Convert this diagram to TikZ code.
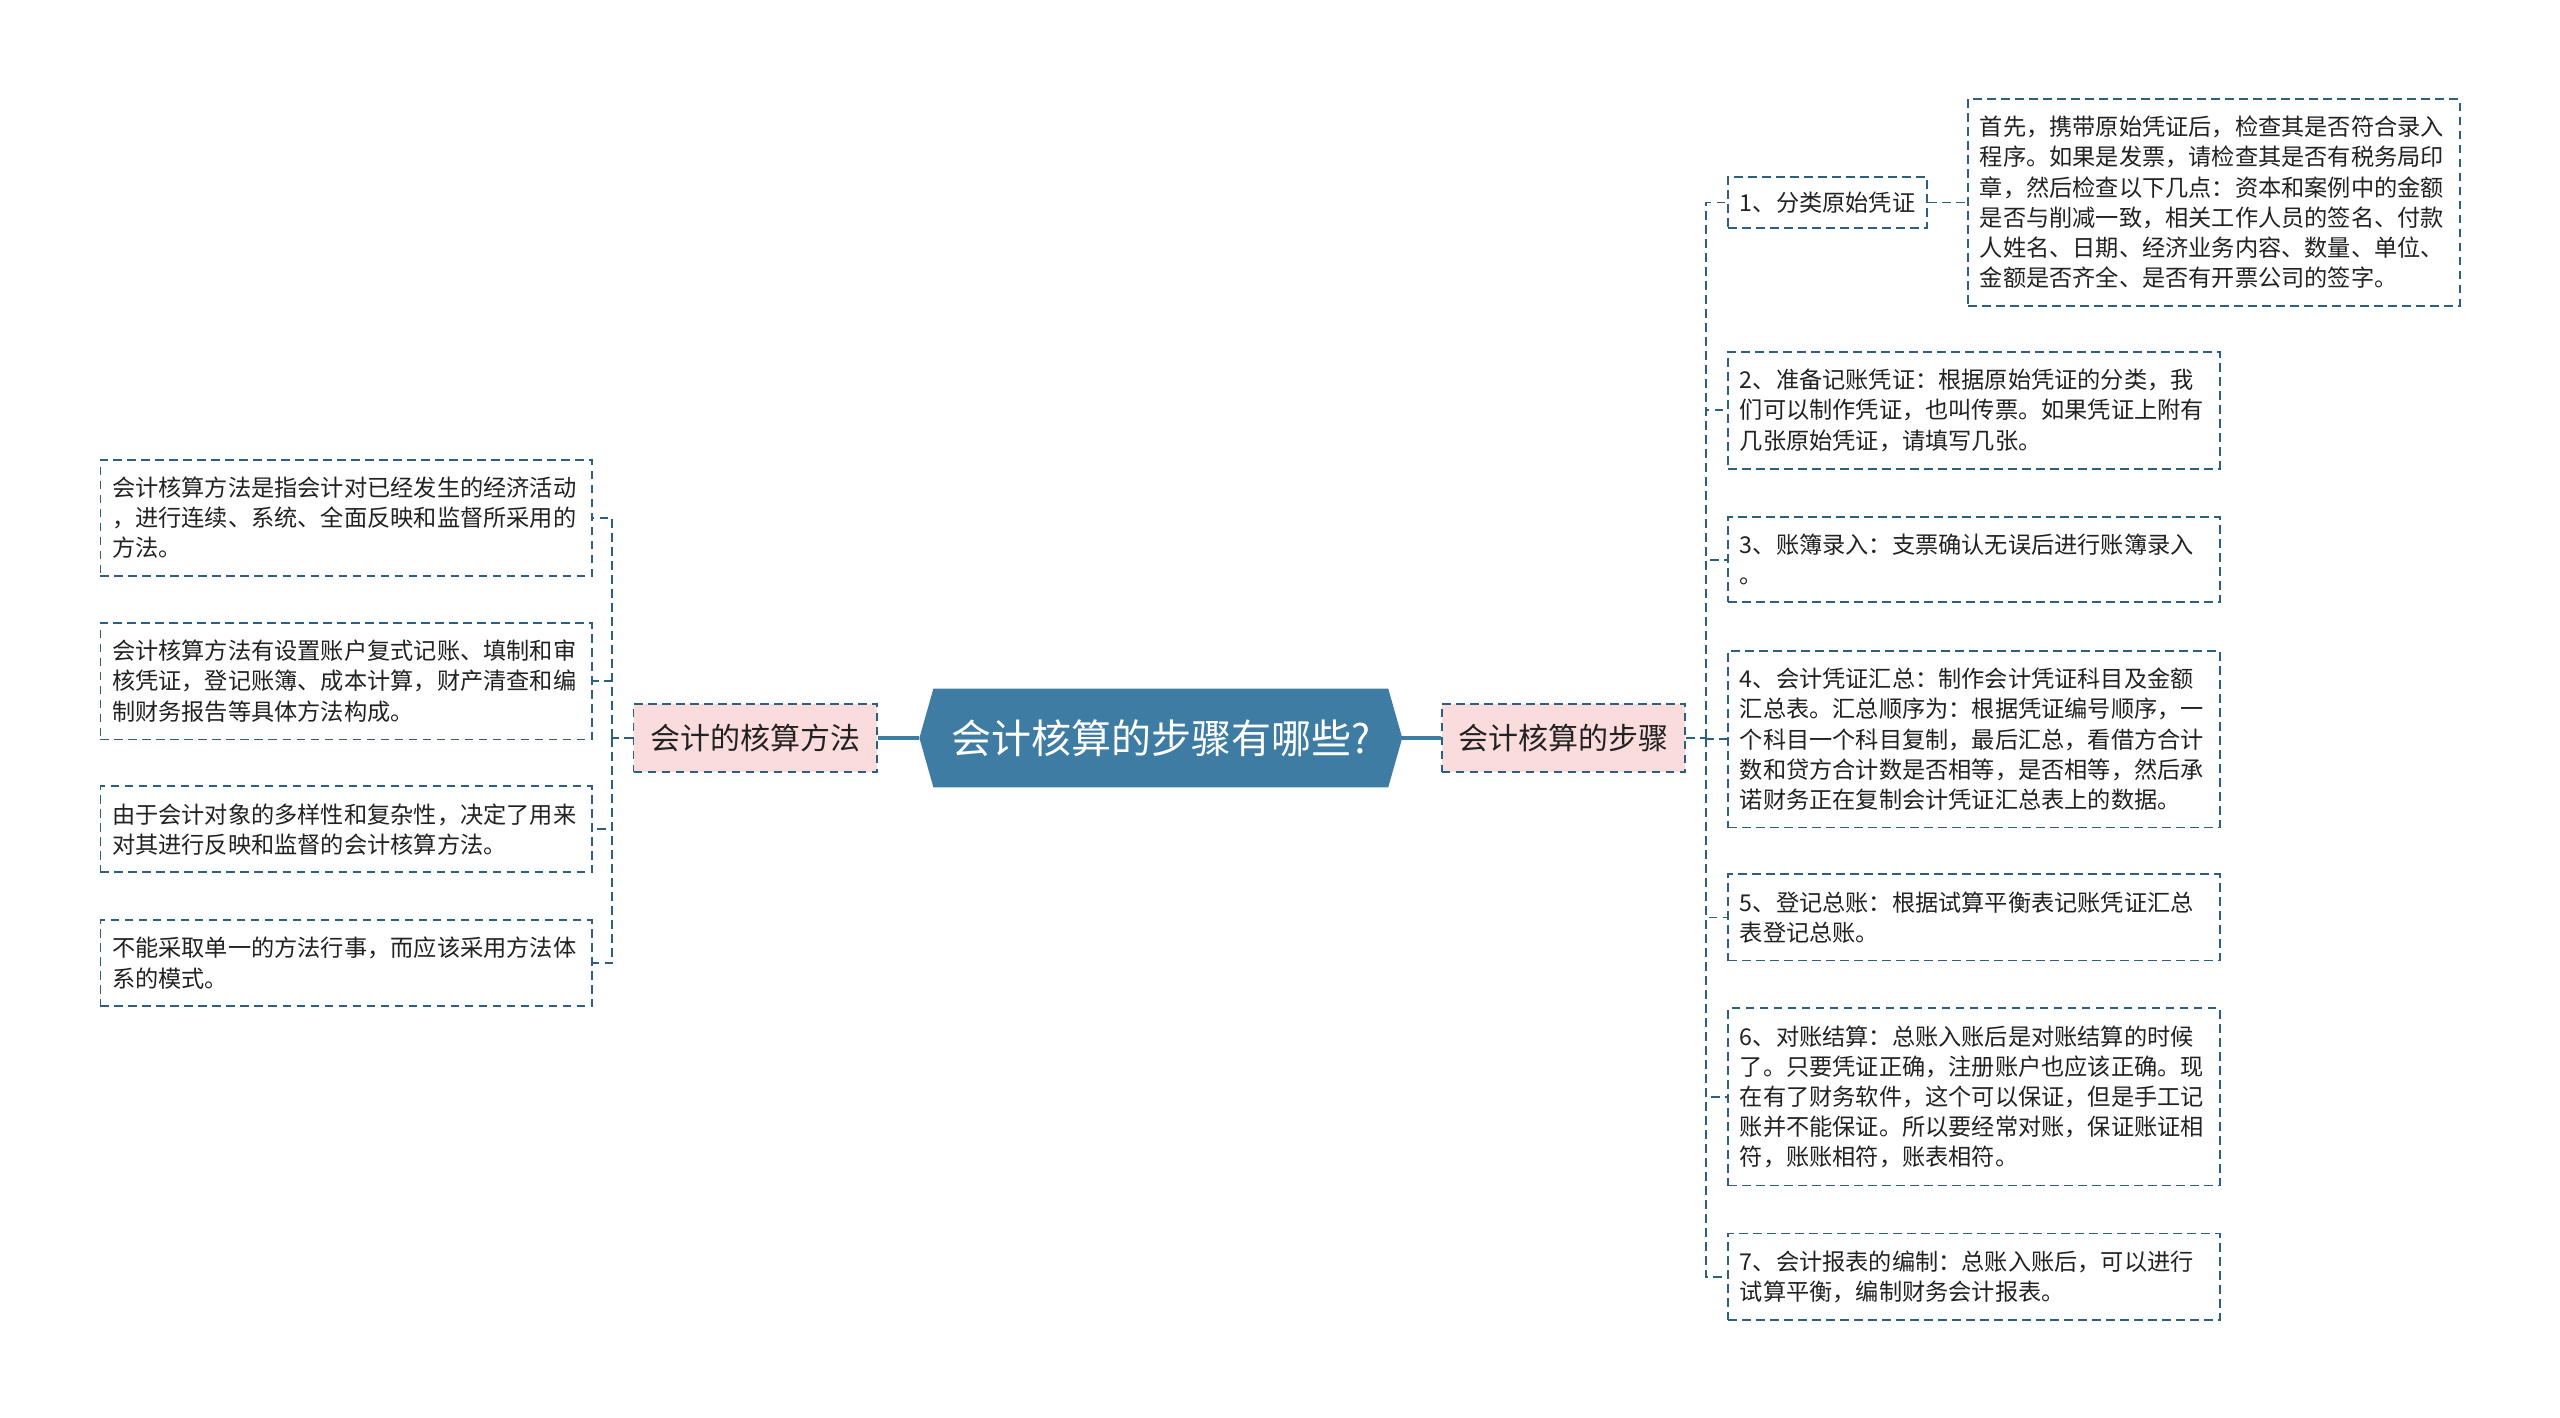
\documentclass[tikz,border=0pt]{standalone}
\usepackage{fontspec}
\setmainfont{Noto Sans CJK SC}
\usetikzlibrary{positioning,backgrounds}
\definecolor{rootblue}{HTML}{3E7CA3}
\definecolor{linkblue}{HTML}{2C5F80}
\definecolor{branchpink}{HTML}{FBDCDC}
\definecolor{txtgray}{HTML}{222222}
\tikzset{box/.style={draw=linkblue,dash pattern=on 4.4pt off 2.6pt,line width=0.9pt,
  text=txtgray,inner ysep=8.6pt,inner xsep=5.85pt}}
\tikzset{leaf/.style={box,text width=234pt,align=left,
  font=\fontsize{11.6pt}{15.1pt}\selectfont}}
\tikzset{branch/.style={box,fill=branchpink,minimum width=121.6pt,
  minimum height=34.3pt,font=\fontsize{15pt}{18pt}\selectfont}}
\tikzset{link/.style={draw=linkblue,dash pattern=on 4.4pt off 2.6pt,line width=0.9pt}}

\begin{document}
\begin{tikzpicture}[x=0.8163pt,y=-0.8163pt]

\tikzstyle{rootnode}=[minimum width=227pt,minimum height=49pt,inner sep=0pt,
  text=white,font=\fontsize{20pt}{24pt}\selectfont]
\tikzstyle{trunk}=[draw=rootblue,line width=1.6pt]

\useasboundingbox (0,0) rectangle (1568,868);

 \node[rootnode] (root) at (711,452) {会计核算的步骤有哪些?};
 \begin{scope}[on background layer]
  \fill[white] (0,0) rectangle (1568,868);
  \fill[rootblue] (root.north west) -- (root.north east) -- ([xshift=7pt]root.east)
    -- (root.south east) -- (root.south west) -- ([xshift=-7pt]root.west) -- cycle;
 \end{scope}

 \node[branch] (lb) at (462.5,452) {会计的核算方法};
 \node[branch] (rb) at (957.5,452) {会计核算的步骤};
 \draw[trunk] ([xshift=-7pt]root.west) -- (lb);
 \draw[trunk] ([xshift=7pt]root.east) -- (rb);

 % left side
 \node[leaf,anchor=north west] (l1) at (61,281) {会计核算方法是指会计对已经发生的经济活动\\，进行连续、系统、全面反映和监督所采用的\\方法。};
 \node[leaf,anchor=north west] (l2) at (61,381) {会计核算方法有设置账户复式记账、填制和审\\核凭证，登记账簿、成本计算，财产清查和编\\制财务报告等具体方法构成。};
 \node[leaf,anchor=north west] (l3) at (61,481) {由于会计对象的多样性和复杂性，决定了用来\\对其进行反映和监督的会计核算方法。};
 \node[leaf,anchor=north west] (l4) at (61,563) {不能采取单一的方法行事，而应该采用方法体\\系的模式。};

 % right side
 \node[box,anchor=west,inner ysep=7.5pt,font=\fontsize{11.6pt}{15.1pt}\selectfont] (r1) at (1058,124) {1、分类原始凭证};
 \node[leaf,anchor=west] (r1d) at (1205,124) {首先，携带原始凭证后，检查其是否符合录入\\程序。如果是发票，请检查其是否有税务局印\\章，然后检查以下几点：资本和案例中的金额\\是否与削减一致，相关工作人员的签名、付款\\人姓名、日期、经济业务内容、数量、单位、\\金额是否齐全、是否有开票公司的签字。};
 \node[leaf,anchor=north west] (r2) at (1058,215) {2、准备记账凭证：根据原始凭证的分类，我\\们可以制作凭证，也叫传票。如果凭证上附有\\几张原始凭证，请填写几张。};
 \node[leaf,anchor=north west] (r3) at (1058,316) {3、账簿录入：支票确认无误后进行账簿录入\\。};
 \node[leaf,anchor=north west] (r4) at (1058,398) {4、会计凭证汇总：制作会计凭证科目及金额\\汇总表。汇总顺序为：根据凭证编号顺序，一\\个科目一个科目复制，最后汇总，看借方合计\\数和贷方合计数是否相等，是否相等，然后承\\诺财务正在复制会计凭证汇总表上的数据。};
 \node[leaf,anchor=north west] (r5) at (1058,535) {5、登记总账：根据试算平衡表记账凭证汇总\\表登记总账。};
 \node[leaf,anchor=north west] (r6) at (1058,617) {6、对账结算：总账入账后是对账结算的时候\\了。只要凭证正确，注册账户也应该正确。现\\在有了财务软件，这个可以保证，但是手工记\\账并不能保证。所以要经常对账，保证账证相\\符，账账相符，账表相符。};
 \node[leaf,anchor=north west] (r7) at (1058,755) {7、会计报表的编制：总账入账后，可以进行\\试算平衡，编制财务会计报表。};

 % dashed elbows
 \coordinate (ltrunk) at (375,452);
 \coordinate (rtrunk) at (1045,452);
 \draw[link] (lb.west) -- (ltrunk);
 \foreach \n in {l1,l2,l3,l4}
   \draw[link] (ltrunk) |- (\n.east);
 \draw[link] (rb.east) -- (rtrunk);
 \foreach \n in {r1,r2,r3,r4,r5,r6,r7}
   \draw[link] (rtrunk) |- (\n.west);
 \draw[link] (r1.east) -- (r1d.west);

\end{tikzpicture}
\end{document}
